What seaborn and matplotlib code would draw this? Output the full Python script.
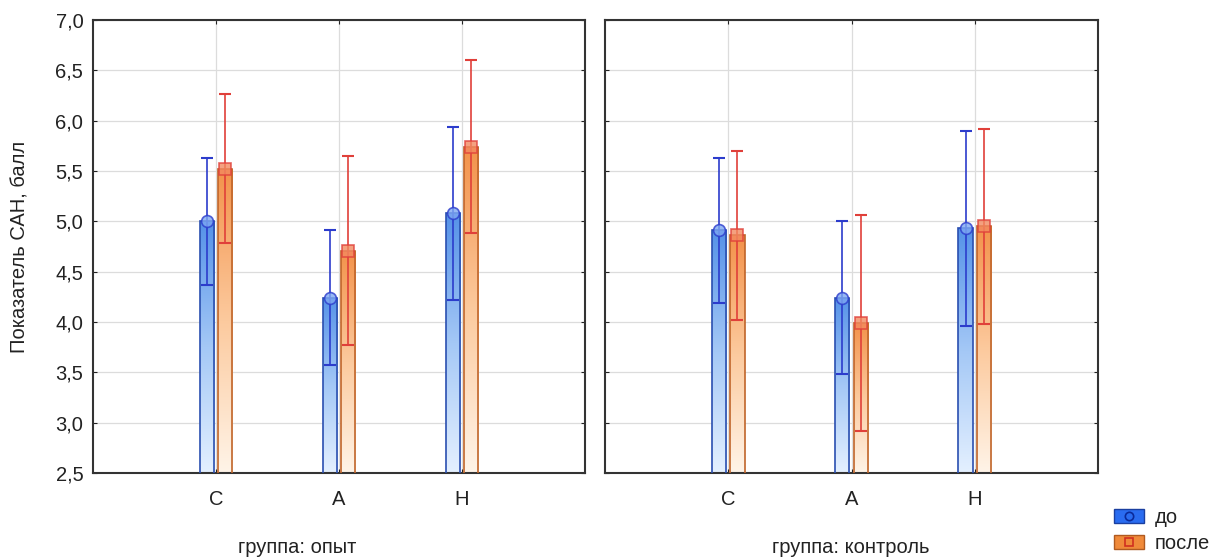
import numpy as np
import pandas as pd
import matplotlib
matplotlib.use("Agg")
import matplotlib.pyplot as plt
import seaborn as sns
from matplotlib.colors import LinearSegmentedColormap
from matplotlib.patches import Patch
from matplotlib.lines import Line2D

# ---- data ----
categories = ["С", "А", "Н"]
times = ["до", "после"]
panels = ["группа: опыт", "группа: контроль"]

opyt_do_mean = [5.00, 4.24, 5.08]
opyt_do_err = [0.63, 0.67, 0.86]
opyt_posle_mean = [5.52, 4.71, 5.74]
opyt_posle_err = [0.74, 0.94, 0.86]

kontrol_do_mean = [4.91, 4.24, 4.93]
kontrol_do_err = [0.72, 0.76, 0.97]
kontrol_posle_mean = [4.86, 3.99, 4.95]
kontrol_posle_err = [0.84, 1.07, 0.97]

yticks = [2.5, 3.0, 3.5, 4.0, 4.5, 5.0, 5.5, 6.0, 6.5, 7.0]

rows = []
for p, (dm, de, pm, pe) in zip(panels, [
        (opyt_do_mean, opyt_do_err, opyt_posle_mean, opyt_posle_err),
        (kontrol_do_mean, kontrol_do_err, kontrol_posle_mean, kontrol_posle_err)]):
    for i, c in enumerate(categories):
        rows.append(dict(panel=p, cat=c, time="до", mean=dm[i], err=de[i]))
        rows.append(dict(panel=p, cat=c, time="после", mean=pm[i], err=pe[i]))
df = pd.DataFrame(rows)

# ---- style ----
sns.set_style("white")
plt.rcParams["font.family"] = ["Liberation Sans", "DejaVu Sans"]
FS = 14.5

edge_cols = {"до": "#2a4fb0", "после": "#c0652a"}
err_cols = {"до": "#2c3ccc", "после": "#e0403a"}
grad = {
    "до": LinearSegmentedColormap.from_list("b", ["#e4f0ff", "#a4c8f6", "#5592e8"]),
    "после": LinearSegmentedColormap.from_list("o", ["#fff4e8", "#fcca9e", "#f3924a"]),
}
markers = {"до": "o", "после": "s"}
marker_fc = {"до": "#7ea8f2", "после": "#f28a60"}

fig = plt.figure(figsize=(12.24, 5.58), dpi=100)
ax1 = fig.add_axes([93 / 1224, 1 - 473 / 558, 492 / 1224, 453 / 558])
ax2 = fig.add_axes([605 / 1224, 1 - 473 / 558, 493 / 1224, 453 / 558])

ymin, ymax = 2.5, 7.0
for ax, p in zip([ax1, ax2], panels):
    sub = df[df.panel == p]
    sns.barplot(data=sub, x="cat", y="mean", hue="time", order=categories,
                hue_order=times, width=0.3, gap=0.22, ax=ax, legend=False,
                errorbar=None, palette=["#9cc4f5", "#fbc89a"], saturation=1)
    ax.set_ylim(ymin, ymax)
    ax.set_xlim(-1, 3)
    patches = [pt for pt in ax.patches]
    k = 0
    for t in times:
        s = sub[sub.time == t].set_index("cat").loc[categories]
        for i, c in enumerate(categories):
            pt = patches[k]; k += 1
            x0 = pt.get_x(); w = pt.get_width()
            h = s.loc[c, "mean"]
            pt.set_facecolor("none")
            pt.set_edgecolor(edge_cols[t])
            pt.set_linewidth(1.2)
            pt.set_zorder(3)
            g = np.linspace(0, 1, 256).reshape(-1, 1)
            im = ax.imshow(g, cmap=grad[t], aspect="auto", origin="lower",
                           extent=[x0, x0 + w, ymin, h], zorder=2,
                           vmin=0, vmax=1)
            im.set_clip_path(pt)
            xc = x0 + w / 2
            e = s.loc[c, "err"]
            ax.errorbar([xc], [h], yerr=[e], color=err_cols[t], lw=1.2,
                        capsize=4.5, capthick=1.5, zorder=4, fmt="none")
            ax.plot([xc], [h], marker=markers[t], ms=8.5, mfc=marker_fc[t],
                    mec=err_cols[t], mew=1.2, alpha=0.8, zorder=5)
    ax.set_ylim(ymin, ymax)
    ax.set_xlim(-1, 3)
    ax.set_yticks(yticks)
    ax.set_yticklabels([f"{v:.1f}".replace(".", ",") for v in yticks])
    ax.grid(True, color="#dcdcdc", lw=0.9, zorder=0)
    ax.set_axisbelow(True)
    ax.tick_params(direction="in", length=3, top=True, right=True,
                   bottom=True, left=True, colors="#222222", labelsize=FS)
    ax.tick_params(axis="x", pad=12)
    ax.tick_params(axis="y", pad=7)
    for sp in ax.spines.values():
        sp.set_color("#333333")
        sp.set_linewidth(1.5)
        sp.set_visible(True)
    ax.set_xlabel("")
    ax.set_ylabel("")

ax2.set_yticklabels([])

fig.text(20 / 1224, 1 - 247 / 558, "Показатель САН, балл", rotation=90,
         ha="center", va="center", fontsize=FS, color="#222222")
fig.text(297 / 1224, 1 - 553 / 558, panels[0], ha="center", va="baseline",
         fontsize=FS, color="#222222")
fig.text(851 / 1224, 1 - 553 / 558, panels[1], ha="center", va="baseline",
         fontsize=FS, color="#222222")

handles = []
for t in times:
    handles.append((Patch(facecolor={"до": "#2a6cf0", "после": "#f08a3a"}[t],
                          edgecolor={"до": "#1a3fa0", "после": "#b05a20"}[t]),
                    Line2D([], [], marker=markers[t], ms=6, mfc="none",
                           mec={"до": "#0a2a9a", "после": "#d03020"}[t],
                           lw=0, mew=1.2)))
fig.legend(handles, times, loc="upper left",
           bbox_to_anchor=(1100 / 1224, 1 - 494 / 558), frameon=False,
           fontsize=FS, handlelength=1.5, handleheight=0.75,
           handletextpad=0.5, labelspacing=0.35, borderpad=0.2,
           labelcolor="#222222")

fig.savefig("out.png", dpi=100)
